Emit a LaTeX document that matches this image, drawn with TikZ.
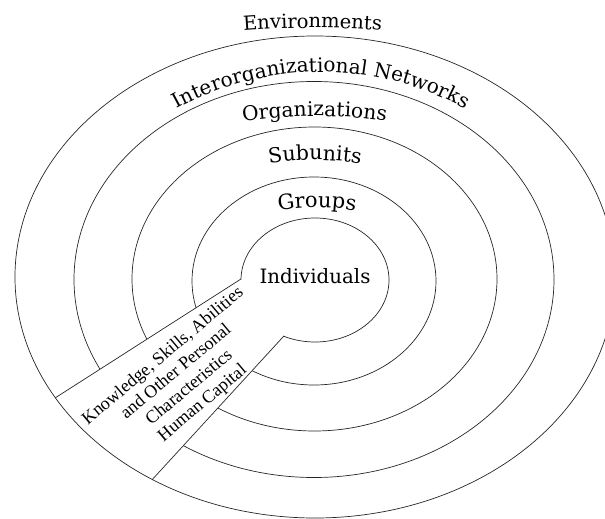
\documentclass[tikz,border=0pt]{standalone}
\usepackage{fontspec}
\setmainfont{Liberation Serif}
\newfontfamily\ringfont{DejaVu Serif}
\usetikzlibrary{intersections,decorations.text,calc}
\newcommand\rf[1]{\ringfont\fontsize{#1}{#1}\selectfont}
\newcommand\ringlabel[5]{%
  \path[decorate, decoration={text along path, text align=center, text={#5}}]
    (#1,-#2-#3) ++(90+#4:#3) arc[start angle=90+#4, end angle=90-#4, radius=#3];
}
\begin{document}
\begin{tikzpicture}[x=1pt,y=1pt, ring/.style={line width=0.7pt, black!85}]
\useasboundingbox (0,0) rectangle (605,-519);
\coordinate (U1) at (241,-279);
\coordinate (U2) at (55,-398);
\coordinate (L1) at (283,-337);
\coordinate (L2) at (150,-482);
\path[name path=ind] (315,-280) ellipse [x radius=74, y radius=62];
\path[name path=outer] (315,-277) ellipse [x radius=300, y radius=241];
\path[name path=uline] ($(U1)!-0.08!(U2)$) -- ($(U1)!1.3!(U2)$);
\path[name path=lline] ($(L1)!-0.12!(L2)$) -- ($(L1)!1.3!(L2)$);
\path[name intersections={of=ind and uline, by=ui}];
\path[name intersections={of=ind and lline, by=li}];
\path[name intersections={of=outer and uline, by=uo}];
\path[name intersections={of=outer and lline, by=lo}];
% rings
\draw[ring] (315,-280) ellipse [x radius=74, y radius=62];
\draw[ring] (314,-281) ellipse [x radius=122, y radius=104];
\draw[ring] (314.5,-279) ellipse [x radius=182.5, y radius=152];
\draw[ring] (314,-279.5) ellipse [x radius=240, y radius=198];
% strip
\fill[white] (ui) -- ($(ui)!2!(uo)$) -- ($(li)!2!(lo)$) -- (li) -- cycle;
\draw[ring] (ui) -- (uo);
\draw[ring] (li) -- (lo);
\draw[ring] (315,-277) ellipse [x radius=300, y radius=241];
% labels
\ringlabel{312.5}{28}{900}{8}{|\rf{19.5}|Environments}
\ringlabel{321}{72}{300}{45}{|\rf{20}|Interorganizational Networks}
\ringlabel{314.5}{116}{480}{20}{|\rf{20.2}|Organizations}
\ringlabel{315}{160}{300}{25}{|\rf{20.5}|Subunits}
\ringlabel{317}{207.5}{240}{30}{|\rf{21}|Groups}
\node[anchor=base, inner sep=0pt, font=\rf{19.8}] (indiv) at (315,-283) {Individuals};
\node[rotate=40, align=center, inner sep=0pt, font=\fontsize{18}{20.5}\selectfont] (kasp) at (183,-380)
  {Knowledge, Skills, Abilities\\and Other Personal\\Characteristics\\Human Capital};
\end{tikzpicture}
\end{document}
